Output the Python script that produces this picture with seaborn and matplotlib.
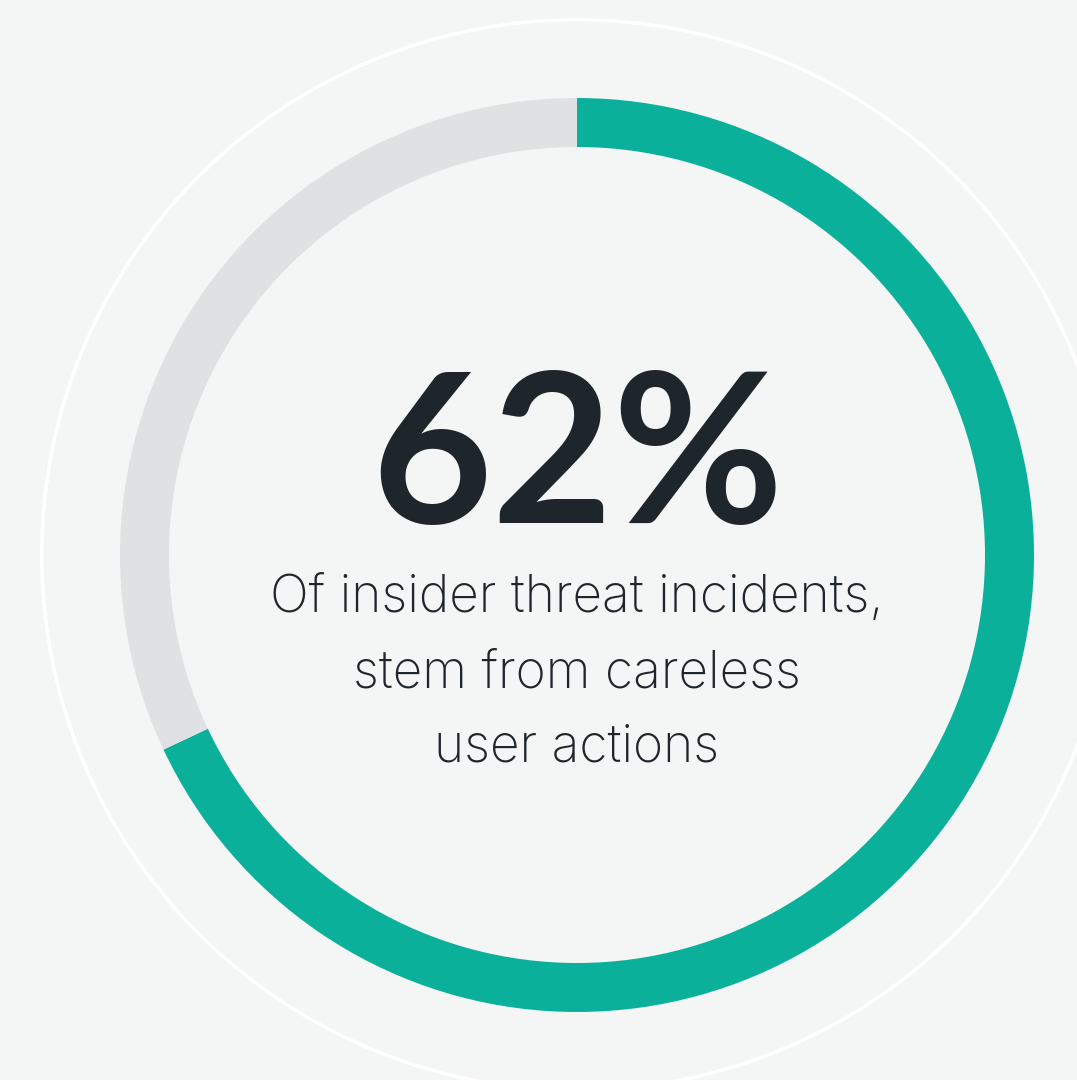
import matplotlib
matplotlib.use("Agg")
import matplotlib.pyplot as plt
import seaborn as sns

# Data
segments = ["Careless user actions", "Other"]
arc_values = [68, 32]          # arc share as drawn in the picture
headline = "62%"
caption_lines = ["Of insider threat incidents,", "stem from careless", "user actions"]

BG = "#f4f6f5"
TEAL = "#0bb09b"
GREY = "#e0e1e3"
DARK = "#1e252b"

sns.set_style("white")
plt.rcParams["font.family"] = ["Inter", "DejaVu Sans"]

W, H = 1077, 1080
fig = plt.figure(figsize=(W / 100, H / 100), dpi=100, facecolor=BG)
ax = fig.add_axes([0, 0, 1, 1])
ax.set_facecolor(BG)
ax.set_xlim(0, W)
ax.set_ylim(0, H)
ax.set_aspect("equal")
ax.axis("off")

cx, cy = 577, H - 555

# outer decorative ring
ax.pie([1], radius=537, center=(cx, cy), colors=["white"],
       wedgeprops=dict(width=3.5, edgecolor="none"), frame=True)

# main donut
ax.pie(arc_values, radius=457, center=(cx, cy), colors=[TEAL, GREY],
       startangle=90, counterclock=False,
       wedgeprops=dict(width=49, edgecolor="none"), frame=True)

ax.set_xlim(0, W)
ax.set_ylim(0, H)
ax.axis("off")

ax.text(cx, H - 523, headline, ha="center", va="baseline", fontsize=150,
        fontweight="bold", color=DARK, family=["Lato", "DejaVu Sans"])

line_y = [612, 687, 762]
for t, y in zip(caption_lines, line_y):
    ax.text(cx, H - y, t, ha="center", va="baseline", fontsize=37,
            fontweight="light", color=DARK)

fig.savefig("out.png", dpi=100, facecolor=BG)
